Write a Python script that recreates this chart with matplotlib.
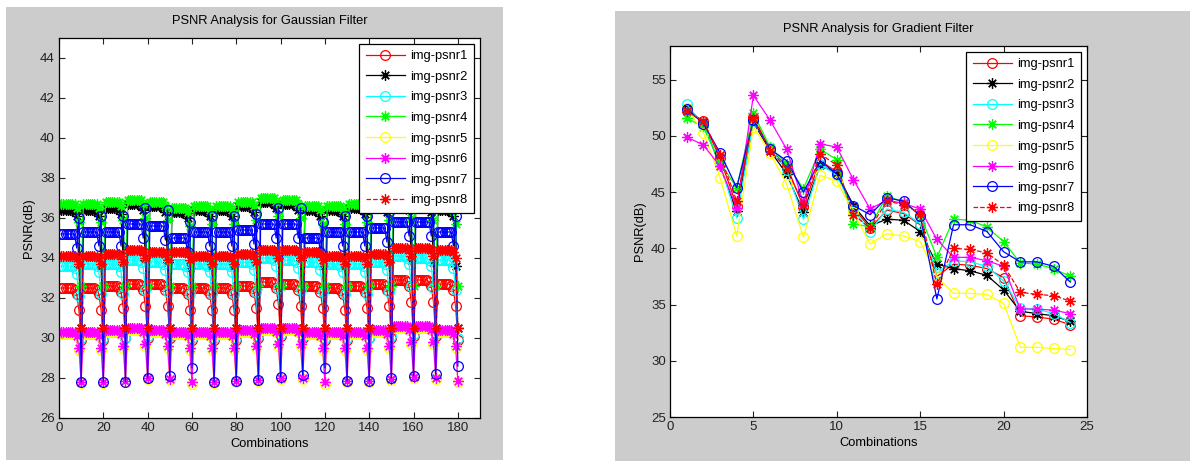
import numpy as np
import matplotlib.pyplot as plt
from matplotlib.patches import Rectangle

plt.rcParams['font.family'] = ['Liberation Sans', 'DejaVu Sans']

names = ['img-psnr1', 'img-psnr2', 'img-psnr3', 'img-psnr4',
         'img-psnr5', 'img-psnr6', 'img-psnr7', 'img-psnr8']
colors = ['#ff0000', '#000000', '#00ffff', '#00ff00',
          '#ffff00', '#ff00ff', '#0000ff', '#ff0000']
markers = ['o', '*', 'o', '*', 'o', '*', 'o', '*']
styles = ['-', '-', '-', '-', '-', '-', '-', '--']

# Gaussian filter: 18 groups of 10 combinations each.
# plateau level of every group, offsets of positions 1..9, value at position 10
g_level1 = [32.5, 32.5, 32.6, 32.7, 32.7, 32.5, 32.5, 32.5, 32.6, 32.8, 32.7, 32.6, 32.5, 32.6, 32.7, 32.9, 32.9, 32.7]
g_level2 = [36.4, 36.4, 36.5, 36.7, 36.6, 36.3, 36.4, 36.4, 36.6, 36.8, 36.7, 36.4, 36.4, 36.5, 36.6, 36.7, 36.6, 36.4]
g_level3 = [33.6, 33.7, 33.7, 33.9, 33.8, 33.7, 33.7, 33.7, 33.8, 34.0, 33.9, 33.8, 33.7, 33.7, 33.8, 34.1, 34.0, 33.9]
g_level4 = [36.7, 36.7, 36.8, 36.9, 36.8, 36.5, 36.6, 36.6, 36.8, 37.0, 36.9, 36.6, 36.6, 36.7, 36.8, 36.9, 36.8, 36.6]
g_level5 = [30.2, 30.2, 30.3, 30.4, 30.3, 30.2, 30.2, 30.2, 30.3, 30.4, 30.4, 30.2, 30.2, 30.2, 30.3, 30.5, 30.5, 30.3]
g_level6 = [30.3, 30.3, 30.4, 30.5, 30.4, 30.3, 30.3, 30.3, 30.4, 30.5, 30.5, 30.3, 30.3, 30.3, 30.4, 30.6, 30.6, 30.4]
g_level7 = [35.2, 35.3, 35.3, 35.7, 35.6, 35.0, 35.3, 35.3, 35.4, 35.7, 35.7, 35.0, 35.3, 35.3, 35.5, 35.8, 35.8, 35.3]
g_level8 = [34.1, 34.1, 34.2, 34.4, 34.3, 34.3, 34.1, 34.1, 34.2, 34.4, 34.4, 34.3, 34.1, 34.1, 34.2, 34.5, 34.5, 34.4]

g_shape1 = [0, 0, 0, 0, 0, 0, -0.1, -0.3, -1.1]
g_shape2 = [0, 0, 0, 0, 0, 0, -0.1, -0.3, -2.8]
g_shape3 = [0, 0, 0, 0, 0, 0, -0.1, -0.4, -1.5]
g_shape4 = [0, 0, 0, 0, 0, 0, 0, -0.2, -0.9]
g_shape5 = [0, 0, 0, 0, 0, 0, 0, -0.1, -0.8]
g_shape6 = [0, 0, 0, 0, 0, 0, 0, -0.2, -0.8]
g_shape7 = [0, 0, 0, 0, 0, 0, 0, -0.7, 0.8]
g_shape8 = [0, 0, 0, 0, 0, 0, 0, -0.1, -0.4]

g_low1 = [29.9, 29.9, 30.0, 30.0, 30.0, 29.9, 29.9, 29.9, 30.0, 30.1, 30.0, 29.9, 29.9, 30.0, 30.0, 30.1, 30.1, 29.9]
g_low2 = [30.5] * 18
g_low3 = [30.0, 30.0, 30.0, 30.1, 30.1, 30.0, 30.0, 30.0, 30.1, 30.2, 30.1, 30.0, 30.0, 30.0, 30.1, 30.2, 30.2, 30.0]
g_low4 = [32.6] * 18
g_low5 = [27.75, 27.75, 27.8, 27.95, 27.9, 27.7, 27.75, 27.8, 27.85, 27.95, 27.95, 27.7, 27.8, 27.8, 27.9, 28.0, 27.95, 27.8]
g_low6 = [27.8, 27.8, 27.85, 28.0, 27.95, 27.8, 27.8, 27.85, 27.9, 28.0, 28.0, 27.8, 27.85, 27.85, 27.95, 28.05, 28.0, 27.85]
g_low7 = [27.8, 27.8, 27.8, 28.0, 28.1, 28.5, 27.8, 27.85, 27.9, 28.05, 28.15, 28.5, 27.85, 27.85, 28.0, 28.1, 28.2, 28.6]
g_low8 = [30.5] * 18

g_levels = [g_level1, g_level2, g_level3, g_level4, g_level5, g_level6, g_level7, g_level8]
g_shapes = [g_shape1, g_shape2, g_shape3, g_shape4, g_shape5, g_shape6, g_shape7, g_shape8]
g_lows = [g_low1, g_low2, g_low3, g_low4, g_low5, g_low6, g_low7, g_low8]

# Gradient filter: 24 combinations
grad_x = list(range(1, 25))
grad1 = [52.2, 51.3, 48.0, 43.8, 51.7, 48.8, 47.3, 43.7, 47.8, 46.8, 43.6, 41.8, 43.4, 43.1, 42.1, 37.5, 38.6, 38.5, 38.2, 37.4, 34.0, 33.9, 33.7, 33.2]
grad2 = [52.5, 51.2, 47.3, 43.3, 51.2, 48.7, 46.6, 43.2, 47.4, 46.7, 43.8, 42.0, 42.6, 42.5, 41.5, 38.6, 38.2, 38.0, 37.6, 36.3, 34.4, 34.2, 34.0, 33.5]
grad3 = [52.8, 51.0, 47.5, 42.7, 51.3, 48.9, 47.0, 42.6, 47.5, 46.5, 43.4, 41.5, 43.5, 43.2, 42.2, 37.8, 38.9, 38.8, 38.4, 37.1, 34.7, 34.6, 34.2, 33.4]
grad4 = [51.6, 50.8, 47.6, 45.4, 52.0, 49.0, 47.5, 45.3, 48.8, 47.9, 42.2, 41.9, 44.7, 44.1, 43.0, 39.2, 42.6, 42.5, 41.9, 40.6, 38.7, 38.6, 38.2, 37.5]
grad5 = [52.5, 50.3, 46.3, 41.1, 50.8, 48.5, 45.7, 41.0, 46.5, 46.0, 43.2, 40.4, 41.3, 41.1, 40.6, 37.5, 36.0, 36.0, 35.9, 35.1, 31.2, 31.2, 31.1, 31.0]
grad6 = [49.9, 49.2, 47.3, 43.6, 53.6, 51.4, 48.8, 44.0, 49.3, 49.0, 46.1, 43.5, 44.3, 44.0, 43.5, 40.8, 39.2, 39.2, 38.9, 38.4, 34.6, 34.6, 34.5, 34.2]
grad7 = [52.4, 51.1, 48.5, 45.4, 51.4, 48.8, 47.8, 45.0, 47.8, 46.6, 43.8, 43.0, 44.5, 44.2, 42.9, 35.5, 42.1, 42.1, 41.5, 39.7, 38.8, 38.8, 38.4, 37.0]
grad8 = [52.2, 51.3, 48.3, 44.2, 51.6, 48.7, 47.1, 43.9, 48.4, 47.4, 43.0, 41.8, 44.2, 43.9, 43.1, 36.8, 40.0, 39.9, 39.6, 38.5, 36.1, 35.9, 35.8, 35.3]
grad_series = [grad1, grad2, grad3, grad4, grad5, grad6, grad7, grad8]

fig = plt.figure(figsize=(11.9, 4.61), dpi=100)
fig.patch.set_facecolor('white')
# grey panel behind each plot
fig.patches.append(Rectangle((6 / 1190, 1 / 461), 497 / 1190, 453 / 461,
                             transform=fig.transFigure, facecolor='#cccccc',
                             edgecolor='none', zorder=-1))
fig.patches.append(Rectangle((615 / 1190, 0), 575 / 1190, 450 / 461,
                             transform=fig.transFigure, facecolor='#cccccc',
                             edgecolor='none', zorder=-1))

ax1 = fig.add_axes([59 / 1190, 43 / 461, 421 / 1190, 380 / 461])
ax2 = fig.add_axes([670 / 1190, 44 / 461, 417 / 1190, 371 / 461])


def draw_line(ax, x, y, i):
    if markers[i] == 'o':
        ax.plot(x, y, color=colors[i], linestyle=styles[i], linewidth=0.9,
                marker='o', markersize=7, markerfacecolor='none',
                markeredgewidth=0.9, label=names[i])
    else:
        ax.plot(x, y, color=colors[i], linestyle=styles[i], linewidth=0.9,
                marker=(8, 2, 0), markersize=7.5, markeredgewidth=0.9,
                label=names[i])


gauss_x = np.arange(1, 181)
for i in range(8):
    vals = []
    for b in range(18):
        vals += [g_levels[i][b] + d for d in g_shapes[i]]
        vals.append(g_lows[i][b])
    draw_line(ax1, gauss_x, vals, i)

for i in range(8):
    draw_line(ax2, grad_x, grad_series[i], i)

ax1.set_xlim(0, 190)
ax1.set_ylim(26, 45)
ax1.set_xticks(range(0, 181, 20))
ax1.set_yticks(range(26, 45, 2))
ax1.set_title('PSNR Analysis for Gaussian Filter', fontsize=9.3, pad=10)

ax2.set_xlim(0, 25)
ax2.set_ylim(25, 58)
ax2.set_xticks(range(0, 26, 5))
ax2.set_yticks(range(25, 56, 5))
ax2.set_title('PSNR Analysis for Gradient Filter', fontsize=9.3, pad=10)

for ax in (ax1, ax2):
    ax.set_facecolor('white')
    ax.set_xlabel('Combinations', fontsize=9.3, labelpad=3)
    ax.set_ylabel('PSNR(dB)', fontsize=9.3, labelpad=4)
    ax.tick_params(direction='in', length=4, width=0.8, labelsize=9.5,
                   top=True, right=True, pad=3, colors='#222222')
    for s in ax.spines.values():
        s.set_linewidth(0.9)
    leg = ax.legend(loc='upper right', fontsize=9.3, fancybox=False,
                    framealpha=1, edgecolor='black', handlelength=3.0,
                    handletextpad=0.45, labelspacing=0.66, borderpad=0.5,
                    borderaxespad=0.45)
    leg.get_frame().set_linewidth(0.9)

fig.savefig('out.png', dpi=100, facecolor='white')
